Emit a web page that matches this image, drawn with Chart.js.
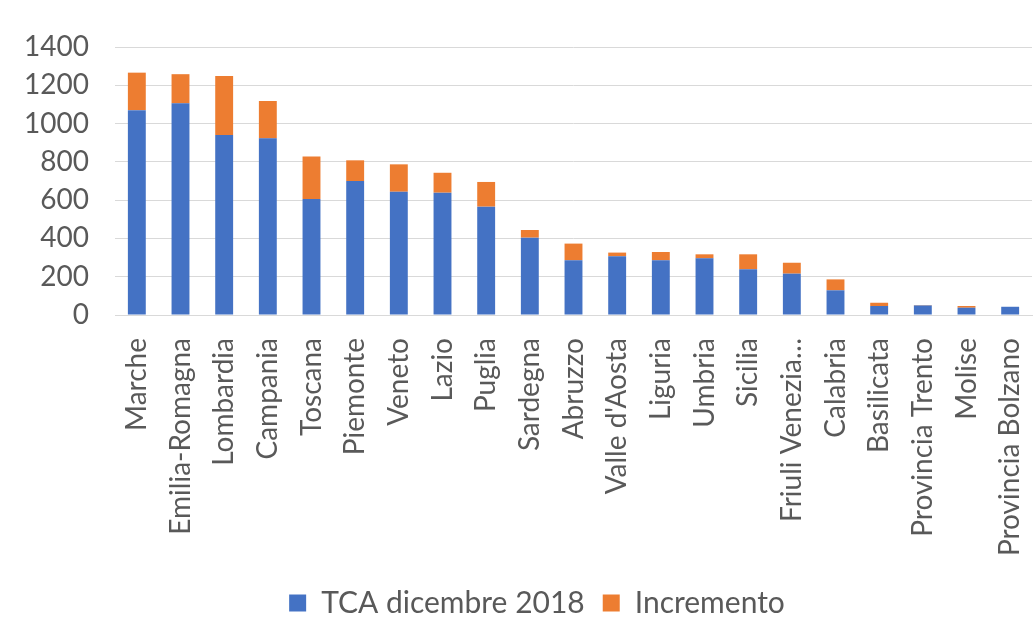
<!DOCTYPE html>
<html>
<head>
<meta charset="utf-8">
<script src="https://cdn.jsdelivr.net/npm/chart.js@4"></script>
<style>
html,body{margin:0;padding:0;background:#fff;}
#wrap{width:1035px;height:618px;position:relative;}
</style>
</head>
<body>
<div id="wrap"><canvas id="c"></canvas></div>
<script>
const categories = ["Marche","Emilia-Romagna","Lombardia","Campania","Toscana","Piemonte","Veneto","Lazio","Puglia","Sardegna","Abruzzo","Valle d'Aosta","Liguria","Umbria","Sicilia","Friuli Venezia…","Calabria","Basilicata","Provincia Trento","Molise","Provincia Bolzano"];
const tcaDicembre2018 = [1070,1106,940,923,606,700,644,639,566,404,286,307,286,296,239,216,129,47,50,38,43];
const incremento = [196,152,309,195,222,108,143,104,129,40,87,19,43,21,78,57,57,17,2,9,0];
const seriesNames = ["TCA dicembre 2018","Incremento"];
const yTicks = [0,200,400,600,800,1000,1200,1400];

const FONT = "Lato";
const GRAY = "#595959";

const legendShift = {
  id: 'legendShift',
  afterLayout(chart) {
    if (chart.legend) { chart.legend.left += 21; chart.legend.right += 21; }
  }
};

new Chart(document.getElementById('c'), {
  type: 'bar',
  data: {
    labels: categories,
    datasets: [
      {label: seriesNames[0], data: tcaDicembre2018, backgroundColor: '#4472C4', barPercentage: 0.41, categoryPercentage: 1},
      {label: seriesNames[1], data: incremento, backgroundColor: '#ED7D31', barPercentage: 0.41, categoryPercentage: 1}
    ]
  },
  plugins: [legendShift],
  options: {
    responsive: true,
    maintainAspectRatio: false,
    animation: false,
    layout: {padding: {left: 0, right: 3, top: 47, bottom: -10}},
    plugins: {
      legend: {
        position: 'bottom',
        labels: {
          font: {family: FONT, size: 30},
          color: GRAY,
          boxWidth: 17,
          boxHeight: 17,
          padding: 18
        }
      },
      tooltip: {enabled: false}
    },
    scales: {
      x: {
        stacked: true,
        grid: {display: false, drawTicks: false},
        border: {display: true, color: '#d9d9d9'},
        ticks: {
          font: {family: FONT, size: 28},
          color: GRAY,
          maxRotation: 90,
          minRotation: 90,
          autoSkip: false,
          padding: 23
        },
        afterFit: (s) => { s.height = 255; s.paddingLeft = 0; s.paddingRight = 0; }
      },
      y: {
        stacked: true,
        min: 0,
        max: 1400,
        afterBuildTicks: (s) => { s.ticks = yTicks.map(v => ({value: v})); },
        grid: {color: '#d9d9d9', drawTicks: false},
        border: {display: false},
        ticks: {
          font: {family: FONT, size: 28},
          color: GRAY,
          padding: 26,
          callback: (v) => String(v)
        },
        afterFit: (s) => { s.width = 115; s.paddingTop = 0; s.paddingBottom = 0; }
      }
    }
  }
});
</script>
</body>
</html>
